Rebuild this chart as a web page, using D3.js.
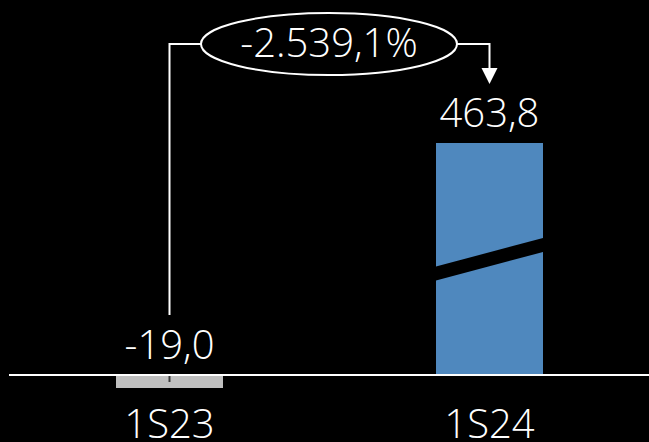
<!DOCTYPE html>
<html>
<head>
<meta charset="utf-8">
<script src="https://cdn.jsdelivr.net/npm/d3@7"></script>
<style>
  html, body { margin: 0; padding: 0; background: #000; }
  svg { display: block; }
  text { font-family: "Open Sans", Lato, sans-serif; font-weight: 300; fill: #fff; }
</style>
</head>
<body>
<svg id="chart" width="649" height="442"></svg>
<script>
// Half-year results
const categories = ["1S23", "1S24"];
const values = [-19.0, 463.8];
const barColors = ["#bfbfbf", "#4f88be"];
const changeLabel = -2539.1; // percent change between the two periods

const W = 649, H = 442;
const svg = d3.select("#chart");
svg.append("rect").attr("width", W).attr("height", H).attr("fill", "#000");

const locale = d3.formatLocale({ decimal: ",", thousands: ".", grouping: [3], currency: ["", "€"], minus: "-" });
const fmtVal = locale.format(",.1f");

// Broken value axis: the positive segment is compressed (see the break mark on the tall bar)
const y = d3.scaleLinear().domain([-19, 0, 463.8]).range([388, 375, 143]);
const x = d3.scaleBand().domain(categories).range([116, 543]).paddingInner(213 / 320).paddingOuter(0);

// Bars
svg.selectAll("rect.bar")
  .data(values)
  .join("rect")
  .attr("class", "bar")
  .attr("x", (d, i) => x(categories[i]))
  .attr("width", x.bandwidth())
  .attr("y", d => Math.min(y(d), y(0)))
  .attr("height", d => Math.abs(y(d) - y(0)))
  .attr("fill", (d, i) => barColors[i]);

// Break mark across the tall bar
const bx0 = x(categories[1]), bx1 = bx0 + x.bandwidth();
svg.append("path")
  .attr("d", `M${bx0},266.5 L${bx1},238 L${bx1},252 L${bx0},280.5 Z`)
  .attr("fill", "#000");

// Zero line
svg.append("line")
  .attr("x1", 9).attr("x2", W).attr("y1", y(0)).attr("y2", y(0))
  .attr("stroke", "#fff").attr("stroke-width", 2);

// Value labels
svg.selectAll("text.val")
  .data(values)
  .join("text")
  .attr("class", "val")
  .attr("x", (d, i) => x(categories[i]) + x.bandwidth() / 2)
  .attr("y", (d, i) => d >= 0 ? y(d) - 16 : y(0) - 16)
  .attr("text-anchor", "middle")
  .attr("font-size", 40)
  .text(d => fmtVal(d));

// Category labels
svg.selectAll("text.cat")
  .data(categories)
  .join("text")
  .attr("class", "cat")
  .attr("x", d => x(d) + x.bandwidth() / 2)
  .attr("y", 438)
  .attr("text-anchor", "middle")
  .attr("font-size", 40)
  .text(d => d);

// Change bracket from the first bar to the second
const cx0 = x(categories[0]) + x.bandwidth() / 2;
const cx1 = x(categories[1]) + x.bandwidth() / 2;
const ex = 329, ey = 44, rx = 128, ry = 31;

svg.append("line")
  .attr("x1", cx0).attr("x2", cx0).attr("y1", y(0) + 1).attr("y2", y(0) + 7)
  .attr("stroke", "#3a3a3a").attr("stroke-width", 2);

svg.append("path")
  .attr("d", `M${cx0},315 L${cx0},${ey} L${ex - rx},${ey}`)
  .attr("fill", "none").attr("stroke", "#fff").attr("stroke-width", 2);

svg.append("path")
  .attr("d", `M${ex + rx},${ey} L${cx1},${ey} L${cx1},70`)
  .attr("fill", "none").attr("stroke", "#fff").attr("stroke-width", 2);

svg.append("path")
  .attr("d", `M${cx1 - 8},68 L${cx1 + 8},68 L${cx1},84 Z`)
  .attr("fill", "#fff");

svg.append("ellipse")
  .attr("cx", ex).attr("cy", ey).attr("rx", rx).attr("ry", ry)
  .attr("fill", "#000").attr("stroke", "#fff").attr("stroke-width", 2);

svg.append("text")
  .attr("x", ex).attr("y", 57)
  .attr("text-anchor", "middle")
  .attr("font-size", 40)
  .text(locale.format(",.1f")(changeLabel) + "%");
</script>
</body>
</html>
